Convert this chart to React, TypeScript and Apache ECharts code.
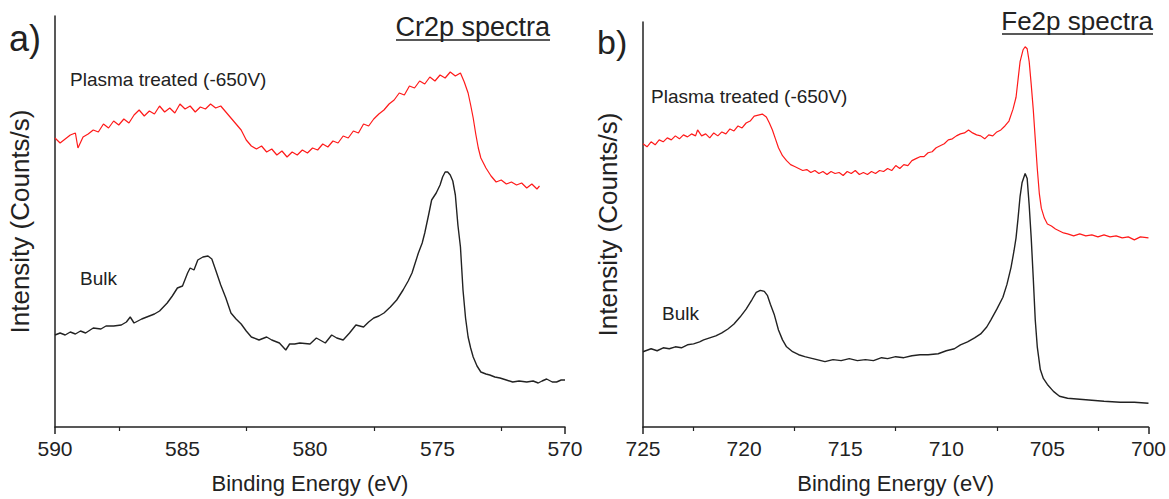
import React, { useEffect, useRef } from "react";
import * as echarts from "echarts";

// ---- Data (Binding energy in eV, intensity in arbitrary counts/s units) ----
const crTicks = [590, 585, 580, 575, 570];
const feTicks = [725, 720, 715, 710, 705, 700];

const crPlasma: [number, number][] = [
  [590.0, 28.9], [589.8, 28.4], [589.6, 28.8], [589.4, 29.2], [589.2, 29.4], [589.1, 27.9], [588.9, 29.0], [588.7, 29.3],
  [588.5, 29.7], [588.3, 29.5], [588.1, 30.3], [587.9, 29.9], [587.7, 30.6], [587.5, 30.2], [587.3, 30.8], [587.1, 30.4],
  [586.9, 31.2], [586.7, 31.7], [586.5, 31.1], [586.3, 31.6], [586.1, 31.3], [585.9, 32.1], [585.7, 31.5], [585.5, 31.9],
  [585.3, 31.4], [585.1, 32.3], [584.9, 31.8], [584.7, 32.1], [584.5, 31.5], [584.3, 32.0], [584.1, 31.8], [583.9, 32.3],
  [583.7, 31.9], [583.5, 32.1], [583.3, 31.5], [583.1, 30.9], [582.9, 30.3], [582.7, 29.7], [582.5, 28.7], [582.3, 28.1],
  [582.1, 27.8], [581.9, 28.1], [581.7, 27.5], [581.5, 27.8], [581.3, 27.2], [581.1, 27.6], [580.9, 27.0], [580.7, 27.5],
  [580.5, 27.2], [580.3, 27.7], [580.1, 27.4], [579.9, 27.9], [579.7, 27.7], [579.5, 28.3], [579.3, 28.0], [579.1, 28.6],
  [578.9, 28.4], [578.7, 29.1], [578.5, 28.9], [578.3, 29.6], [578.1, 29.4], [577.9, 30.3], [577.7, 30.1], [577.5, 30.8],
  [577.3, 31.3], [577.1, 31.7], [576.9, 32.3], [576.7, 32.7], [576.5, 33.4], [576.3, 33.2], [576.1, 34.1], [575.9, 33.9],
  [575.7, 34.6], [575.5, 34.3], [575.3, 35.0], [575.1, 34.6], [574.9, 35.2], [574.7, 34.9], [574.5, 35.5], [574.3, 35.1],
  [574.1, 35.4], [573.95, 34.5], [573.8, 33.4], [573.7, 32.2], [573.6, 30.9], [573.5, 29.3], [573.4, 27.9], [573.3, 26.9],
  [573.1, 25.9], [572.9, 25.1], [572.7, 24.5], [572.5, 24.7], [572.3, 24.3], [572.1, 24.5], [571.9, 24.2], [571.7, 24.4],
  [571.5, 23.9], [571.3, 24.3], [571.1, 23.8], [571.0, 24.1],
];

const crBulk: [number, number][] = [
  [590.0, 9.2], [589.8, 9.4], [589.6, 9.2], [589.4, 9.5], [589.2, 9.3], [589.0, 9.6], [588.8, 9.4], [588.5, 9.9],
  [588.2, 9.8], [588.0, 10.1], [587.7, 10.1], [587.4, 10.2], [587.2, 10.5], [587.05, 11.0], [586.9, 10.4], [586.6, 10.8],
  [586.4, 11.0], [586.1, 11.3], [585.9, 11.6], [585.6, 12.4], [585.4, 13.1], [585.2, 13.9], [585.0, 14.1], [584.8, 15.4],
  [584.7, 15.9], [584.55, 15.7], [584.4, 16.7], [584.2, 17.0], [584.0, 17.1], [583.85, 16.8], [583.7, 15.7], [583.5, 14.2],
  [583.3, 12.9], [583.1, 11.4], [582.9, 10.8], [582.7, 10.3], [582.5, 9.6], [582.3, 9.0], [582.0, 8.7], [581.7, 9.0],
  [581.5, 8.7], [581.2, 8.4], [580.95, 7.7], [580.8, 8.3], [580.6, 8.3], [580.4, 8.4], [580.0, 8.3], [579.75, 8.9],
  [579.4, 8.4], [579.15, 9.2], [578.95, 8.9], [578.7, 8.7], [578.45, 9.4], [578.2, 10.2], [577.9, 10.0], [577.7, 10.5],
  [577.5, 10.9], [577.3, 11.1], [577.1, 11.4], [576.85, 12.0], [576.6, 12.7], [576.35, 13.7], [576.15, 14.6], [576.0, 15.4],
  [575.75, 17.4], [575.6, 18.4], [575.5, 19.4], [575.35, 21.2], [575.23, 22.7], [575.05, 23.4], [574.9, 24.2], [574.8, 25.0],
  [574.7, 25.5], [574.6, 25.5], [574.5, 25.2], [574.4, 24.6], [574.3, 23.2], [574.2, 20.2], [574.1, 18.0], [574.0, 13.7],
  [573.9, 10.9], [573.8, 9.0], [573.7, 7.9], [573.6, 7.0], [573.45, 6.1], [573.3, 5.5], [573.1, 5.3], [572.95, 5.2],
  [572.75, 5.0], [572.55, 4.9], [572.3, 4.7], [572.05, 4.5], [571.8, 4.6], [571.5, 4.5], [571.25, 4.6], [571.05, 4.4],
  [570.9, 4.6], [570.72, 4.8], [570.5, 4.5], [570.33, 4.5], [570.15, 4.7], [570.0, 4.7],
];

const fePlasma: [number, number][] = [
  [725.0, 28.6], [724.8, 28.3], [724.6, 28.8], [724.4, 28.5], [724.2, 29.0], [724.0, 28.8], [723.8, 29.2], [723.6, 29.0],
  [723.4, 29.4], [723.2, 29.1], [723.0, 29.5], [722.8, 29.3], [722.6, 29.6], [722.4, 29.4], [722.3, 30.0], [722.1, 29.4],
  [721.9, 29.6], [721.7, 29.2], [721.5, 29.7], [721.3, 29.4], [721.1, 29.8], [720.9, 29.6], [720.7, 30.1], [720.5, 29.9],
  [720.3, 30.4], [720.1, 30.2], [719.9, 30.7], [719.7, 30.9], [719.5, 31.4], [719.3, 31.5], [719.1, 31.6], [718.9, 31.3],
  [718.75, 30.7], [718.6, 30.0], [718.45, 29.1], [718.3, 28.2], [718.1, 27.4], [717.9, 26.9], [717.7, 26.5], [717.5, 26.3],
  [717.3, 26.1], [717.1, 25.9], [716.9, 26.0], [716.7, 25.7], [716.5, 25.9], [716.3, 25.6], [716.1, 25.8], [715.9, 25.5],
  [715.7, 25.8], [715.5, 25.6], [715.3, 25.7], [715.1, 25.4], [714.9, 25.8], [714.7, 25.6], [714.5, 25.9], [714.3, 25.5],
  [714.1, 25.7], [713.9, 25.5], [713.7, 25.8], [713.5, 25.6], [713.3, 25.9], [713.1, 25.8], [712.9, 26.1], [712.7, 25.9],
  [712.5, 26.4], [712.3, 26.1], [712.1, 26.5], [711.9, 26.4], [711.7, 26.9], [711.5, 27.1], [711.3, 27.3], [711.1, 27.3],
  [710.9, 27.7], [710.7, 27.8], [710.5, 28.2], [710.3, 28.4], [710.1, 28.6], [709.9, 29.0], [709.7, 29.1], [709.5, 29.4],
  [709.3, 29.6], [709.1, 29.7], [708.9, 30.0], [708.7, 29.7], [708.5, 29.5], [708.3, 29.4], [708.1, 29.1], [707.9, 29.5],
  [707.7, 29.4], [707.5, 29.8], [707.3, 30.0], [707.1, 30.4], [706.9, 30.9], [706.7, 32.1], [706.55, 33.3], [706.45, 35.1],
  [706.35, 36.9], [706.2, 38.1], [706.1, 38.4], [706.0, 38.2], [705.9, 36.9], [705.8, 34.6], [705.7, 32.1], [705.6, 29.1],
  [705.5, 26.1], [705.4, 23.6], [705.3, 22.1], [705.15, 21.1], [705.0, 20.5], [704.8, 20.3], [704.6, 20.0], [704.4, 19.8],
  [704.2, 19.6], [704.0, 19.5], [703.7, 19.3], [703.4, 19.5], [703.1, 19.3], [702.8, 19.4], [702.5, 19.2], [702.2, 19.4],
  [701.9, 19.2], [701.6, 19.3], [701.3, 19.1], [701.0, 19.2], [700.7, 18.9], [700.4, 19.2], [700.0, 19.1],
];

const feBulk: [number, number][] = [
  [725.0, 7.6], [724.6, 7.9], [724.3, 7.7], [724.0, 8.0], [723.7, 7.9], [723.4, 8.1], [723.1, 8.0], [722.8, 8.3],
  [722.5, 8.4], [722.2, 8.6], [722.0, 8.8], [721.7, 9.0], [721.4, 9.2], [721.1, 9.5], [720.8, 9.9], [720.5, 10.4],
  [720.2, 11.1], [719.9, 11.9], [719.6, 12.9], [719.4, 13.6], [719.2, 13.8], [719.0, 13.7], [718.85, 13.3], [718.7, 12.4],
  [718.5, 11.3], [718.3, 9.8], [718.1, 8.8], [717.9, 8.1], [717.6, 7.6], [717.3, 7.3], [717.0, 7.1], [716.6, 6.9],
  [716.2, 6.7], [716.0, 6.6], [715.6, 6.8], [715.2, 6.7], [714.8, 6.9], [714.4, 6.7], [714.0, 6.8], [713.6, 6.7],
  [713.2, 7.0], [712.9, 6.9], [712.5, 7.1], [712.1, 7.0], [711.7, 7.2], [711.3, 7.3], [710.9, 7.3], [710.4, 7.4],
  [710.0, 7.7], [709.6, 7.9], [709.3, 8.3], [708.95, 8.6], [708.6, 9.0], [708.3, 9.4], [708.0, 10.1], [707.8, 10.8],
  [707.5, 11.9], [707.2, 13.1], [707.0, 14.4], [706.8, 16.1], [706.65, 17.8], [706.55, 19.1], [706.45, 21.1], [706.35, 23.3],
  [706.25, 24.7], [706.1, 25.6], [706.0, 25.1], [705.9, 22.4], [705.8, 19.1], [705.7, 15.1], [705.6, 10.8], [705.5, 8.1],
  [705.35, 5.8], [705.2, 4.9], [705.0, 4.3], [704.7, 3.6], [704.4, 3.1], [704.0, 2.9], [703.4, 2.8], [702.8, 2.7],
  [702.2, 2.6], [701.4, 2.5], [700.7, 2.5], [700.0, 2.4],
];

const FONT = "'Liberation Sans', Arial, sans-serif";
const INK = "#222";
const RED = "#ff1a1a";

export default function App() {
  const ref = useRef<HTMLDivElement>(null);

  useEffect(() => {
    if (!ref.current) return;
    const chart = echarts.init(ref.current, undefined, { renderer: "svg" });

    const mainX = (grid: number, ticks: number[]) => ({
      gridIndex: grid,
      type: "value" as const,
      position: "bottom" as const,
      min: ticks[ticks.length - 1],
      max: ticks[0],
      interval: 5,
      inverse: true,
      name: "Binding Energy (eV)",
      nameLocation: "middle" as const,
      nameGap: 45,
      nameTextStyle: { fontSize: 22, color: INK, fontFamily: FONT },
      axisLine: { show: true, onZero: false, lineStyle: { color: INK, width: 1.5 } },
      axisTick: { show: false },
      minorTick: { show: true, splitNumber: 2, length: 4, lineStyle: { color: INK, width: 1.2 } },
      axisLabel: { fontSize: 21, color: INK, fontFamily: FONT, margin: 11 },
      splitLine: { show: false },
      minorSplitLine: { show: false },
    });
    const endX = (grid: number, ticks: number[]) => ({
      gridIndex: grid,
      type: "value" as const,
      position: "bottom" as const,
      min: ticks[ticks.length - 1],
      max: ticks[0],
      interval: ticks[0] - ticks[ticks.length - 1],
      inverse: true,
      axisLine: { show: false },
      axisTick: { show: true, length: 7, lineStyle: { color: INK, width: 1.5 } },
      axisLabel: { show: false },
      splitLine: { show: false },
    });
    const yAx = (grid: number, max: number) => ({
      gridIndex: grid,
      type: "value" as const,
      min: 0,
      max,
      name: "Intensity (Counts/s)",
      nameLocation: "middle" as const,
      nameGap: 22,
      nameTextStyle: { fontSize: 26, color: INK, fontFamily: FONT },
      axisLine: { show: true, onZero: false, lineStyle: { color: INK, width: 1.5 } },
      axisTick: { show: false },
      axisLabel: { show: false },
      splitLine: { show: false },
    });

    const line = (name: string, data: [number, number][], xi: number, yi: number, color: string, w: number) => ({
      name,
      type: "line" as const,
      xAxisIndex: xi,
      yAxisIndex: yi,
      data,
      showSymbol: false,
      symbol: "none",
      lineStyle: { color, width: w },
      silent: true,
    });

    const txt = (text: string, x: number, y: number, size: number, align = "left") => ({
      type: "text" as const,
      x,
      y,
      silent: true,
      style: { text, fontSize: size, fontFamily: FONT, fill: INK, align, verticalAlign: "middle" },
    });
    const uline = (x1: number, x2: number, y: number) => ({
      type: "line" as const,
      silent: true,
      shape: { x1, y1: y, x2, y2: y },
      style: { stroke: INK, lineWidth: 1.5 },
    });

    chart.setOption({
      animation: false,
      backgroundColor: "#fff",
      grid: [
        { left: 55, top: 16, width: 510, height: 411 },
        { left: 643, top: 22, width: 509, height: 409 },
      ],
      xAxis: [mainX(0, crTicks), endX(0, crTicks), mainX(1, feTicks), endX(1, feTicks)],
      yAxis: [yAx(0, 41.1), yAx(1, 40.9)],
      series: [
        line("Plasma treated (-650V) Cr2p", crPlasma, 0, 0, RED, 1.2),
        line("Bulk Cr2p", crBulk, 0, 0, INK, 1.4),
        line("Plasma treated (-650V) Fe2p", fePlasma, 2, 1, RED, 1.2),
        line("Bulk Fe2p", feBulk, 2, 1, INK, 1.4),
      ],
      graphic: [
        txt("a)", 9, 38, 36),
        txt("b)", 597, 42, 34),
        txt("Cr2p spectra", 550, 27, 27, "right"),
        uline(396, 550, 40),
        txt("Fe2p spectra", 1153, 21, 26, "right"),
        uline(1002, 1153, 34),
        txt("Plasma treated (-650V)", 70, 79, 19),
        txt("Bulk", 80, 278, 19),
        txt("Plasma treated (-650V)", 651, 96, 19),
        txt("Bulk", 662, 313, 19),
      ],
    });

    return () => chart.dispose();
  }, []);

  return (
    <div
      ref={ref}
      style={{ position: "fixed", left: 0, top: 0, width: 1169, height: 499, background: "#fff" }}
    />
  );
}
